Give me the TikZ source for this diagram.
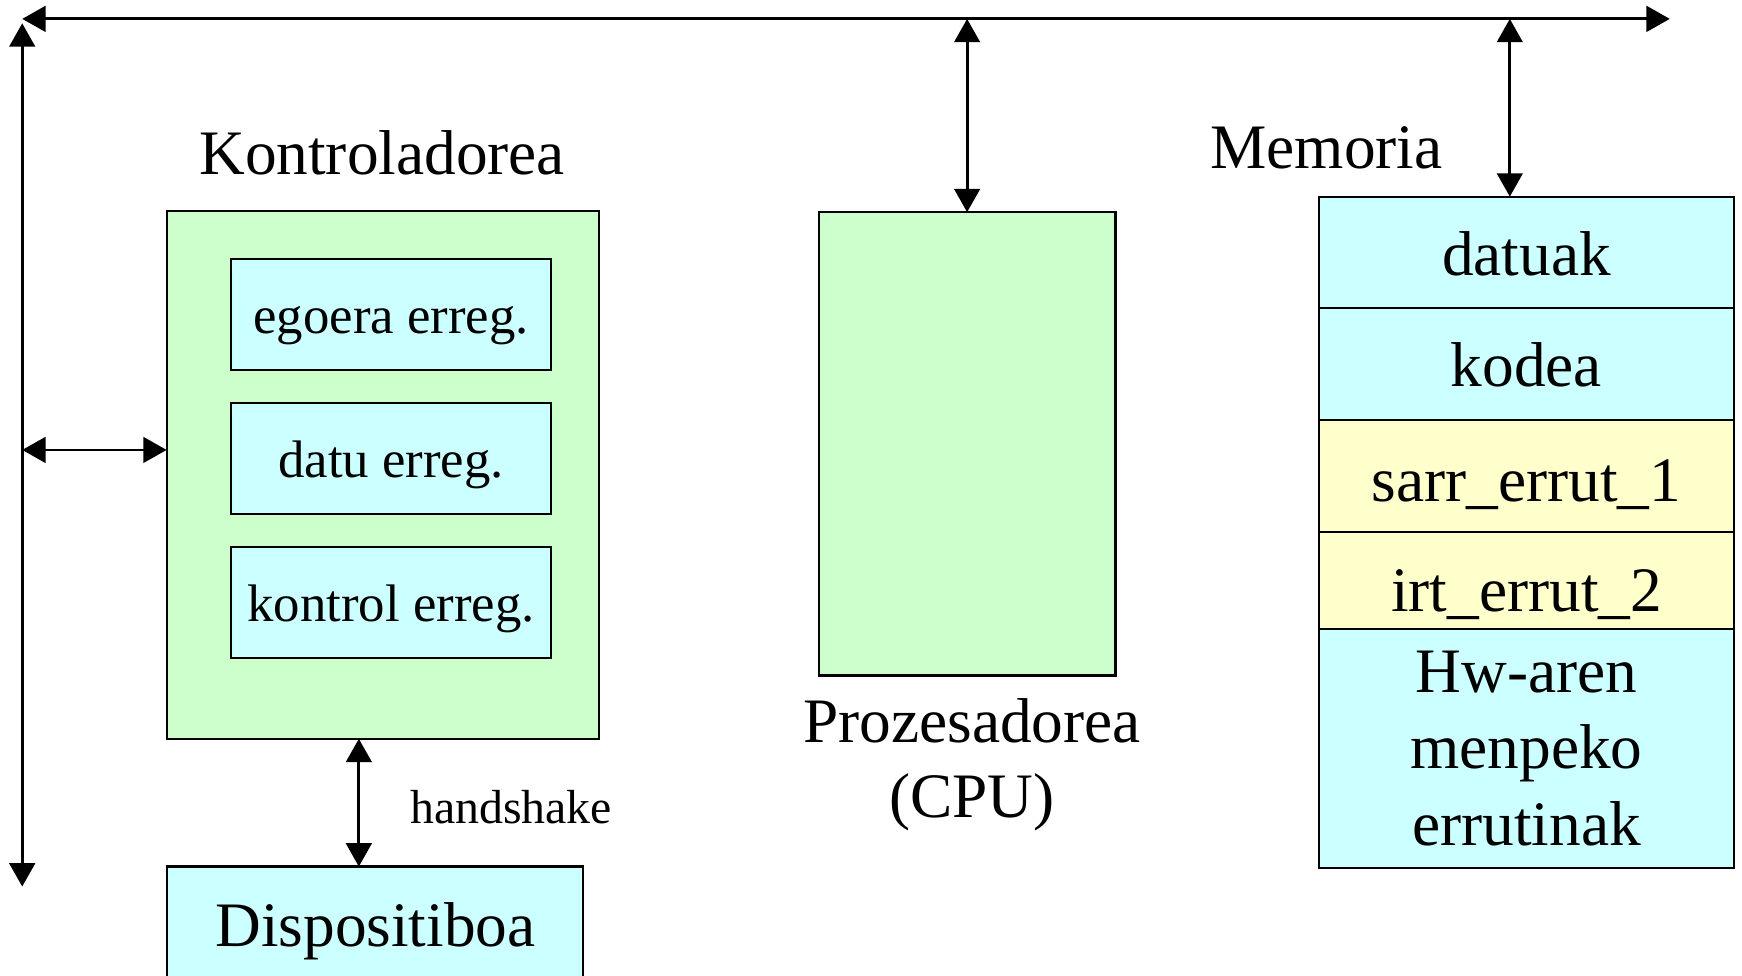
\documentclass[tikz,border=0pt]{standalone}
\usepackage{fontspec}
\setmainfont{Liberation Serif}
\usetikzlibrary{arrows.meta}
\definecolor{ctrlgreen}{HTML}{CCFFCC}
\definecolor{regcyan}{HTML}{CCFFFF}
\definecolor{routyellow}{HTML}{FFFFCC}
\begin{document}
\begin{tikzpicture}[x=0.5pt,y=-0.5pt,
  box/.style={draw=black, line width=1pt, inner sep=0pt, outer sep=0pt, align=center},
  oneline/.style={text height=26pt, text depth=5pt},
  bus/.style={line width=1.3pt,
              {Triangle[length=10.5pt,width=11.5pt]}-{Triangle[length=10.5pt,width=11.5pt]}},
  big/.style={font=\fontsize{28.5}{34.5}\selectfont},
  small/.style={font=\fontsize{23.75}{28.5}\selectfont, text height=21pt, text depth=4pt},
  tiny/.style={font=\fontsize{21.5}{26}\selectfont},
  label/.style={inner sep=0pt},
]
\useasboundingbox (0,0) rectangle (1568,878);
\clip (0,0) rectangle (1568,878);

% controller with its registers
\node[box, fill=ctrlgreen, minimum width=194.5pt, minimum height=237.5pt] (ctrl) at (344.5,427.5) {};
\node[big, label, anchor=base] (ctrlLabel) at (344,157) {Kontroladorea};
\node[box, small, fill=regcyan, minimum width=144pt, minimum height=50pt] (egoera) at (352,283) {egoera erreg.};
\node[box, small, fill=regcyan, minimum width=144pt, minimum height=50pt] (datu) at (352,413) {datu erreg.};
\node[box, small, fill=regcyan, minimum width=144pt, minimum height=50pt] (kontrol) at (352,542.5) {kontrol erreg.};

% device
\node[box, fill=regcyan, minimum width=187.5pt, minimum height=70pt, anchor=north west] (disp) at (150,780) {};
\node[big, label, anchor=base] (dispLabel) at (338,852) {Dispositiboa};

% processor
\node[box, fill=ctrlgreen, minimum width=133.5pt, minimum height=208.5pt] (cpu) at (870.5,399.5) {};
\node[big, label, anchor=base] (cpuLabel1) at (875,668) {Prozesadorea};
\node[big, label, anchor=base] (cpuLabel2) at (875,736) {(CPU)};

% memory map
\node[big, label, anchor=base] (memLabel) at (1194,152) {Memoria};
\node[box, big, oneline, fill=regcyan, minimum width=187pt, minimum height=50pt] (dat) at (1374,227) {datuak};
\node[box, big, oneline, fill=regcyan, minimum width=187pt, minimum height=50.5pt, text height=25.5pt] (kod) at (1374,327.5) {kodea};
\node[box, big, oneline, fill=routyellow, minimum width=187pt, minimum height=50.5pt, text height=27.5pt] (sarr) at (1374,428.5) {sarr\_errut\_1};
\node[box, big, oneline, fill=routyellow, minimum width=187pt, minimum height=43.5pt, text height=33pt] (irt) at (1374,522.5) {irt\_errut\_2};
\node[box, big, fill=regcyan, minimum width=187pt, minimum height=107.5pt] (hw) at (1374,673.5) {Hw-aren\\menpeko\\errutinak};

% system bus
\coordinate (busL) at (20,17);
\coordinate (busR) at (1503,17);
\coordinate (vTop) at (20,21);
\coordinate (vBot) at (20,798);
\draw[bus] (busL) -- (busR);
\draw[bus] (vTop) -- (vBot);

% connections to the bus
\coordinate (ctrlTap) at (20,405);
\draw[bus] (ctrlTap) -- (ctrlTap -| ctrl.west);
\draw[bus] (cpu.north |- busL) -- (cpu.north);
\coordinate (memTap) at (1359,17);
\draw[bus] (memTap) -- (memTap |- dat.north);

% handshake between controller and device
\coordinate (hs) at (323,0);
\draw[bus] (hs |- ctrl.south) -- (hs |- disp.north);
\node[tiny, label, anchor=base west] (hsLabel) at (369,741) {handshake};
\end{tikzpicture}
\end{document}
